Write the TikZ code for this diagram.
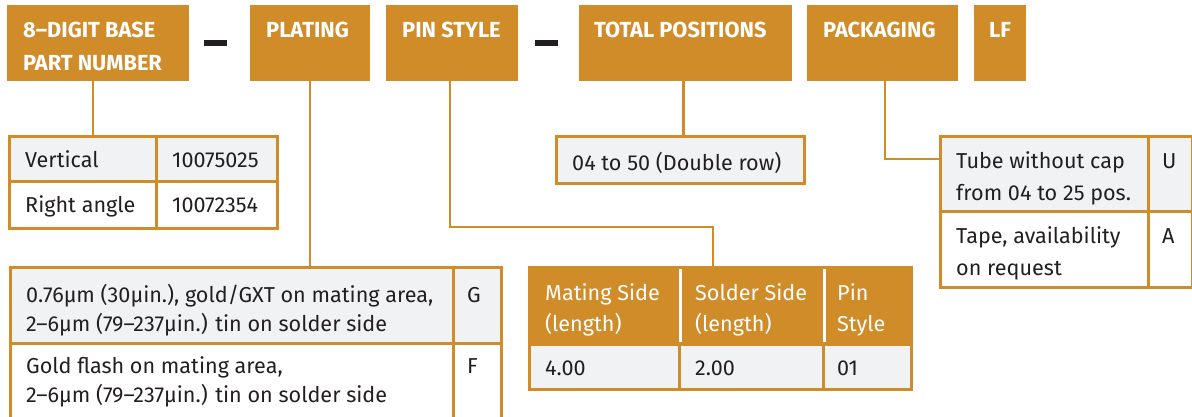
\documentclass[tikz,border=0pt]{standalone}
\usepackage{fontspec}
\setmainfont{Fira Sans}
\definecolor{org}{HTML}{D18C2A}
\definecolor{cellgray}{HTML}{F1F2F4}
\definecolor{ink}{HTML}{231F20}
\tikzset{
  hbox/.style={fill=org, draw=none, inner sep=0pt, minimum height=76bp, anchor=north west},
  htxt/.style={text=white, font=\fontsize{21.8bp}{25bp}\selectfont\bfseries, anchor=base west, inner sep=0pt},
  cell/.style={draw=org, line width=2.5bp, inner sep=0pt, anchor=north west},
  gcell/.style={cell, fill=cellgray},
  ocell/.style={cell, fill=org},
  btxt/.style={text=ink, font=\fontsize{21.6bp}{25bp}\selectfont, anchor=base west, inner sep=0pt},
  wtxt/.style={btxt, text=white},
  conn/.style={draw=org, line width=2.5bp},
  dashbar/.style={fill=ink, minimum width=23bp, minimum height=6bp, inner sep=0pt, anchor=north west},
}
\begin{document}
\begin{tikzpicture}[x=1bp,y=-1bp]
\useasboundingbox (0,0) rectangle (1192,416);
\clip (0,0) rectangle (1192,416);
% header boxes
\node[hbox, minimum width=182bp] (h1) at (7,5) {};
\node[hbox, minimum width=120bp] (h2) at (250,5) {};
\node[hbox, minimum width=132bp] (h3) at (386,5) {};
\node[hbox, minimum width=213bp] (h4) at (579,5) {};
\node[hbox, minimum width=151bp] (h5) at (807,5) {};
\node[hbox, minimum width=52bp] (h6) at (974,5) {};
\node[dashbar] (d1) at (204,40) {};
\node[dashbar] (d2) at (535,40) {};
\node[htxt] (h1t1) at (23,37) {8–DIGIT BASE};
\node[htxt] (h1t2) at (23,70) {PART NUMBER};
\node[htxt] (h2t) at (266,37) {PLATING};
\node[htxt] (h3t) at (402,37) {PIN STYLE};
\node[htxt] (h4t) at (594,37) {TOTAL POSITIONS};
\node[htxt] (h5t) at (823,37) {PACKAGING};
\node[htxt] (h6t) at (989,37) {LF};
% table 1
\node[gcell, minimum width=147bp, minimum height=45bp] (t1a) at (8,135) {};
\node[gcell, minimum width=121bp, minimum height=45bp] (t1b) at (155,135) {};
\node[cell, minimum width=147bp, minimum height=47bp] (t1c) at (8,180) {};
\node[cell, minimum width=121bp, minimum height=47bp] (t1d) at (155,180) {};
\node[btxt] (t1at) at (25,167) {Vertical};
\node[btxt] (t1bt) at (172,167) {10075025};
\node[btxt] (t1ct) at (25,212) {Right angle};
\node[btxt] (t1dt) at (172,212) {10072354};
% total positions box
\node[gcell, minimum width=248bp, minimum height=47bp] (tp) at (555,135) {};
\node[btxt] (tpt) at (572,170) {04 to 50 (Double row)};
% packaging table
\node[gcell, minimum width=208bp, minimum height=75bp] (p1) at (939,135) {};
\node[gcell, minimum width=44bp, minimum height=75bp] (p2) at (1147,135) {};
\node[cell, minimum width=208bp, minimum height=76bp] (p3) at (939,210) {};
\node[cell, minimum width=44bp, minimum height=76bp] (p4) at (1147,210) {};
\node[btxt] (p1t1) at (956,168) {Tube without cap};
\node[btxt] (p1t2) at (956,200) {from 04 to 25 pos.};
\node[btxt] (p2t) at (1162,168) {U};
\node[btxt] (p3t1) at (956,243) {Tape, availability};
\node[btxt] (p3t2) at (956,275) {on request};
\node[btxt] (p4t) at (1162,243) {A};
% plating table
\node[gcell, minimum width=443bp, minimum height=76bp] (q1) at (9,266) {};
\node[gcell, minimum width=48bp, minimum height=76bp] (q2) at (452,266) {};
\node[cell, minimum width=443bp, minimum height=90bp] (q3) at (9,342) {};
\node[cell, minimum width=48bp, minimum height=90bp] (q4) at (452,342) {};
\node[btxt] (q1t1) at (26,302) {0.76μm (30μin.), gold/GXT on mating area,};
\node[btxt] (q1t2) at (26,331) {2–6μm (79–237μin.) tin on solder side};
\node[btxt] (q2t) at (467,302) {G};
\node[btxt] (q3t1) at (26,373) {Gold flash on mating area,};
\node[btxt] (q3t2) at (26,402) {2–6μm (79–237μin.) tin on solder side};
\node[btxt] (q4t) at (467,373) {F};
% pin table
\node[ocell, minimum width=150bp, minimum height=77bp] (r1) at (528,266) {};
\node[ocell, minimum width=144bp, minimum height=77bp] (r2) at (678,266) {};
\node[ocell, minimum width=88bp, minimum height=77bp] (r3) at (822,266) {};
\node[gcell, minimum width=150bp, minimum height=45bp] (r4) at (528,343) {};
\node[gcell, minimum width=144bp, minimum height=45bp] (r5) at (678,343) {};
\node[gcell, minimum width=88bp, minimum height=45bp] (r6) at (822,343) {};
\draw[white, line width=3bp] ([yshift=-3bp]r1.north east) -- ([yshift=4bp]r1.south east);
\draw[white, line width=3bp] ([yshift=-3bp]r2.north east) -- ([yshift=4bp]r2.south east);
\node[wtxt] (r1t1) at (545,300) {Mating Side};
\node[wtxt] (r1t2) at (545,331) {(length)};
\node[wtxt] (r2t1) at (695,300) {Solder Side};
\node[wtxt] (r2t2) at (695,331) {(length)};
\node[wtxt] (r3t1) at (837,300) {Pin};
\node[wtxt] (r3t2) at (837,331) {Style};
\node[btxt] (r4t) at (545,375) {4.00};
\node[btxt] (r5t) at (695,375) {2.00};
\node[btxt] (r6t) at (837,375) {01};
% connectors
\coordinate (pinbend) at (713,227);
\coordinate (pkbend) at (885,159);
\draw[conn] ([xshift=86bp]h1.south west) -- ([xshift=86bp]h1.south west |- t1a.north);
\draw[conn] (h2.south) -- (h2.south |- q1.north);
\draw[conn] ([xshift=-2bp]h3.south) |- (pinbend) -- (pinbend |- r1.north);
\draw[conn] ([xshift=-2bp]h4.south) -- ([xshift=-2bp]h4.south |- tp.north);
\draw[conn] (pkbend |- h5.south) -- (pkbend) -- (pkbend -| p1.west);
\end{tikzpicture}
\end{document}
